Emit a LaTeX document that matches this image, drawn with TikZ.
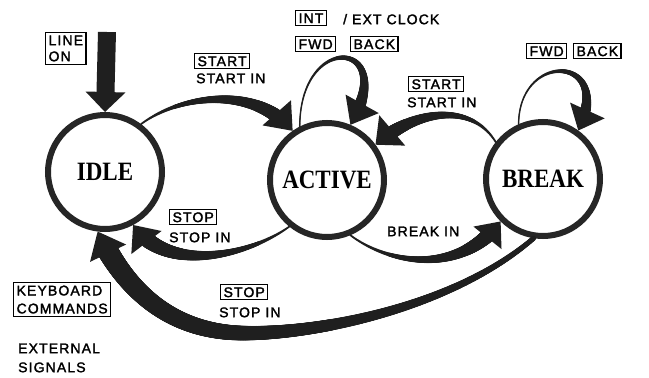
\documentclass[tikz,border=0pt]{standalone}
\usepackage{fontspec}
\usepackage{graphicx}
\usetikzlibrary{decorations.markings}
\newfontfamily\labfont[LetterSpace=8,FakeBold=2]{Liberation Sans}
\newfontfamily\statefont{Liberation Serif}
\definecolor{ink}{gray}{0.12}
\definecolor{ringcol}{gray}{0.15}
\tikzset{
  ta/.code={\def\taperA{#1}},
  tb/.code={\def\taperB{#1}},
  tp/.code={\def\taperP{#1}},
  headonly/.style 2 args={
    decoration={markings,
      mark=at position -3pt with {\fill[ink] ([xshift=3pt]-#1,#2) -- (3pt,0pt) -- ([xshift=3pt]-#1,-#2) -- cycle;}},
    decorate},
  taperbody/.style={
    decoration={markings,
      mark=between positions 0 and -#1 step 0.6pt with {%
        \pgfmathsetmacro\tprad{\taperA+(\taperB-\taperA)*(((\pgfkeysvalueof{/pgf/decoration/mark info/distance from start})+0.1pt)/(\pgfdecoratedpathlength))^\taperP}%
        \fill[ink] (0pt,0pt) circle[radius=\tprad pt];}},
    decorate},
  state/.style={circle, draw=ringcol, line width=6pt, fill=white, minimum size=114pt,
    inner sep=0pt, font=\statefont\bfseries\fontsize{23}{23}\selectfont},
  lab/.style={font=\labfont\fontsize{14}{16}\selectfont},
  plain/.style={lab, inner sep=0pt, text height=10pt, text depth=0pt, anchor=north west},
  box/.style={lab, draw=black, line width=1.2pt, inner xsep=3pt, inner ysep=2.5pt,
    text height=10pt, text depth=0pt, anchor=north west},
  mbox/.style={lab, draw=black, line width=1.2pt, inner xsep=3pt, inner ysep=3pt,
    align=left, anchor=north west},
}
\newcommand\tarrow[4]{\path[#1, taperbody=#2] #4; \path[headonly={#2}{#3}] #4;}
\begin{document}
\begin{tikzpicture}[x=1pt,y=-1pt]
\useasboundingbox[fill=white] (0,0) rectangle (649,378);
% states
\node[state] (idle) at (105,172) {\scalebox{1}[1.15]{IDLE}};
\node[state] (active) at (327,180) {\scalebox{1}[1.15]{ACTIVE}};
\node[state] (brk) at (543,179) {\scalebox{1}[1.15]{BREAK}};
% line on arrow
\coordinate (lineontop) at (107,32);
\draw[ink, line width=18pt, shorten >=19pt] (lineontop) -- (idle.north);
\path[headonly={20pt}{20pt}] (lineontop) -- (idle.north);
% start idle -> active
\tarrow{ta=1, tb=8, tp=1.3}{24pt}{19pt}{(idle.53) .. controls (180,95) and (255,85) .. (active.125)}
% active self loop
\tarrow{ta=0.8, tb=8, tp=2.5}{24pt}{19pt}{(active.117) .. controls (300,30) and (400,40) .. (active.67)}
% start break -> active
\tarrow{ta=1, tb=8, tp=1.3}{22pt}{20pt}{(brk.142) .. controls (470,100) and (412,112) .. (active.36)}
% break self loop
\tarrow{ta=0.8, tb=7.5, tp=2.5}{22pt}{19pt}{(brk.114) .. controls (519,50) and (615,55) .. (brk.54)}
% stop active -> idle
\tarrow{ta=1, tb=9, tp=1.3}{22pt}{19pt}{(active.-129) .. controls (250,255) and (168,275) .. (idle.-62)}
% stop break -> idle
\tarrow{ta=2.5, tb=11, tp=1.2}{24pt}{20pt}{(brk.-99) .. controls (450,310) and (310,335) .. (240,333) .. controls (170,331) and (125,290) .. (idle.-97)}
% break in active -> break
\tarrow{ta=1, tb=8.5, tp=1.5}{21pt}{18pt}{(active.-67) .. controls (390,265) and (460,275) .. (brk.-135)}
% labels
\node[mbox] (lineonlbl) at (45,32) {LINE\\ON};
\node[box] (start1) at (194,53) {START};
\node[plain] (startin1) at (196,73) {START IN};
\node[box] (int) at (295,10) {INT};
\node[plain] (ext) at (343,14) {/ EXT CLOCK};
\node[box] (fwd1) at (295,36) {FWD};
\node[box] (back1) at (350,36) {BACK};
\node[box] (start2) at (408,76) {START};
\node[plain] (startin2) at (407,97) {START IN};
\node[box] (fwd2) at (526,43) {FWD};
\node[box] (back2) at (573,43) {BACK};
\node[box] (stop1) at (169,209) {STOP};
\node[plain] (stopin1) at (169,232) {STOP IN};
\node[plain] (breakin) at (387,226) {BREAK IN};
\node[box] (stop2) at (220,284) {STOP};
\node[plain] (stopin2) at (219,307) {STOP IN};
\node[mbox] (kbd) at (13,282) {KEYBOARD\\[2pt]COMMANDS};
\node[plain] (ext1) at (18,343) {EXTERNAL};
\node[plain] (ext2) at (18,362) {SIGNALS};
\end{tikzpicture}
\end{document}
